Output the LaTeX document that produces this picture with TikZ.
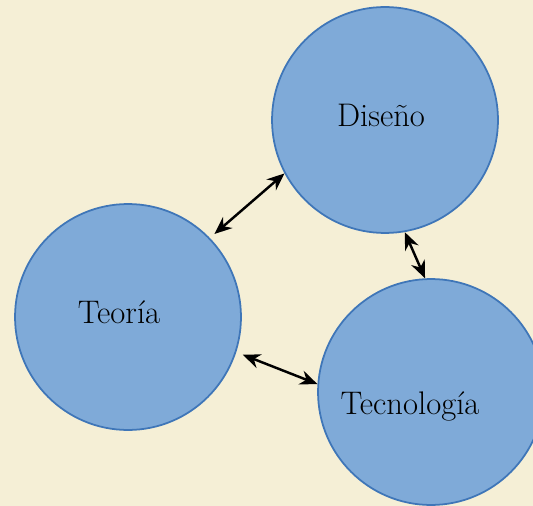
\documentclass[tikz,border=0pt]{standalone}
\usepackage{tikz}
\usetikzlibrary{arrows.meta, positioning}
\definecolor{parchment}{HTML}{F5EFD6}
\definecolor{discfill}{HTML}{7FAAD8}
\definecolor{discedge}{HTML}{3F76B8}

\begin{document}
\begin{tikzpicture}[
    x=0.02cm, y=-0.02cm,
    disc/.style={circle, draw=discedge, fill=discfill, line width=1pt,
        minimum size=4.52cm, inner sep=0pt},
    label/.style={font=\fontsize{18.6}{22}\selectfont, inner sep=0pt},
    link/.style={{Stealth[length=3.5mm, width=2.9mm]}-{Stealth[length=3.5mm, width=2.9mm]},
        line width=1.4pt, black}
]

% Background
\fill[parchment] (0,0) rectangle (533,506);
\useasboundingbox (0,0) rectangle (533,506);

% Circles
\node[disc] (diseno) at (385,120) {};
\node[disc] (teoria) at (128,317) {};
\node[disc] (tecno) at (431,392) {};

% Labels
\node[label] (ldiseno) at (381,115) {Diseño};
\node[label] (lteoria) at (119,312) {Teoría};
\node[label] (ltecno) at (410,406) {Tecnología};

% Links between circles
\draw[link, shorten <=0.12cm] (teoria.44) -- (diseno.208);
\draw[link] (diseno.280) -- (tecno.93);
\draw[link, shorten <=0.14cm] (teoria.-18) -- (tecno.176);
\end{tikzpicture}
\end{document}
